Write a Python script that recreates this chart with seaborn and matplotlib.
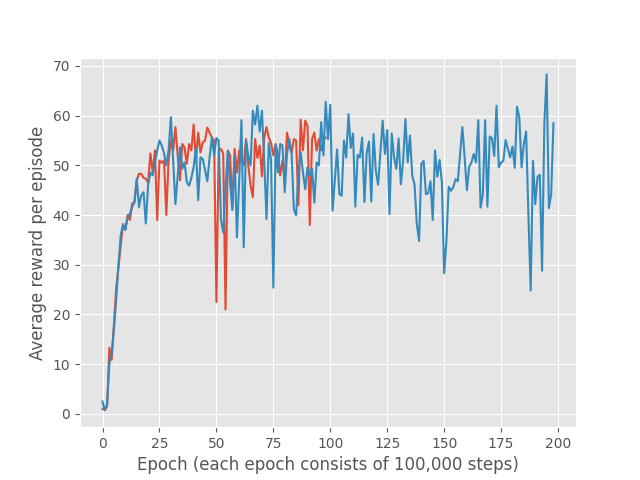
import matplotlib
matplotlib.use("Agg")
import matplotlib.pyplot as plt
import seaborn as sns
import numpy as np

# Average reward per episode
red_rewards = [
    1.0, 0.8, 1.5, 13.3, 10.9, 18.0, 25.4, 29.5, 34.0, 38.2,
    37.0, 40.0, 39.0, 42.3, 42.5, 47.0, 48.3, 48.3, 47.5, 47.3,
    46.5, 52.4, 48.7, 53.0, 39.0, 51.0, 50.5, 51.0, 40.0, 51.0,
    55.0, 53.0, 57.7, 52.0, 47.0, 54.3, 53.6, 50.3, 54.3, 53.0,
    58.2, 51.0, 56.6, 52.6, 54.6, 55.0, 57.6, 56.6, 55.6, 55.0,
    22.5, 53.0, 53.3, 52.3, 21.0, 53.0, 52.0, 41.5, 53.3, 48.6,
    53.0, 51.0, 50.0, 55.3, 50.0, 46.0, 43.6, 55.3, 51.5, 54.0,
    47.8, 55.6, 57.7, 55.6, 54.5, 52.0, 54.3, 52.3, 48.0, 51.0,
    47.0, 56.6, 54.0, 52.5, 55.3, 55.0, 42.0, 59.2, 53.0, 59.0,
    58.0, 38.0, 55.3, 56.6, 53.0, 55.3, 53.0, 55.0, 55.6,
]

blue_rewards = [
    2.5, 0.7, 2.0, 10.2, 12.0, 17.0, 23.0, 30.0, 36.0, 38.0,
    37.0, 39.5, 40.3, 41.6, 42.6, 47.3, 41.6, 44.0, 44.6, 38.3,
    46.0, 48.5, 48.0, 50.5, 53.0, 55.0, 54.0, 52.5, 50.0, 53.0,
    59.7, 51.0, 42.2, 48.0, 53.6, 49.3, 50.6, 46.6, 45.9, 47.5,
    49.6, 53.6, 43.0, 51.6, 51.3, 49.0, 46.8, 51.6, 55.6, 52.0,
    55.5, 55.0, 39.0, 36.5, 45.5, 52.8, 46.6, 41.0, 52.0, 35.5,
    47.0, 59.1, 33.5, 55.0, 52.0, 50.0, 61.0, 58.2, 62.0, 56.8,
    61.0, 50.8, 39.2, 54.5, 51.0, 25.4, 54.2, 48.6, 54.3, 54.0,
    44.6, 52.3, 55.3, 52.6, 41.2, 39.9, 48.6, 52.6, 48.6, 45.2,
    49.6, 47.9, 49.3, 42.5, 50.6, 50.0, 58.7, 52.0, 62.8, 55.3,
    62.2, 40.9, 47.0, 53.2, 44.2, 43.9, 55.0, 51.6, 60.3, 53.5,
    56.4, 41.7, 52.1, 51.6, 55.6, 42.6, 52.6, 54.8, 42.7, 56.3,
    48.9, 46.1, 52.5, 59.0, 52.3, 57.1, 40.2, 56.4, 51.6, 49.3,
    55.4, 46.2, 50.9, 59.3, 50.6, 56.0, 47.9, 46.2, 38.2, 34.8,
    50.3, 50.9, 44.2, 44.4, 46.8, 39.0, 53.0, 47.7, 51.1, 46.6,
    28.3, 34.8, 45.7, 44.9, 45.6, 47.2, 46.8, 52.3, 57.7, 51.6,
    45.0, 49.7, 50.6, 52.3, 50.6, 59.1, 41.5, 44.2, 59.1, 41.7,
    55.8, 55.5, 51.9, 62.0, 49.6, 50.6, 50.9, 55.1, 53.3, 51.6,
    53.8, 49.5, 61.8, 59.7, 49.6, 54.3, 56.8, 40.0, 24.8, 50.9,
    42.2, 47.7, 48.1, 28.8, 58.3, 68.3, 41.4, 44.2, 58.5,
]

red_epochs = list(range(len(red_rewards)))
blue_epochs = list(range(len(blue_rewards)))

plt.style.use("ggplot")
fig, ax = plt.subplots(figsize=(6.4, 4.8), dpi=100)

sns.lineplot(x=red_epochs, y=red_rewards, color="#E24A33", linewidth=1.5, ax=ax)
sns.lineplot(x=blue_epochs, y=blue_rewards, color="#348ABD", linewidth=1.5, ax=ax)

ax.set_xlabel("Epoch (each epoch consists of 100,000 steps)")
ax.set_ylabel("Average reward per episode")
ax.set_xticks([0, 25, 50, 75, 100, 125, 150, 175, 200])
ax.set_yticks([0, 10, 20, 30, 40, 50, 60, 70])

fig.savefig("out.png", dpi=100)
